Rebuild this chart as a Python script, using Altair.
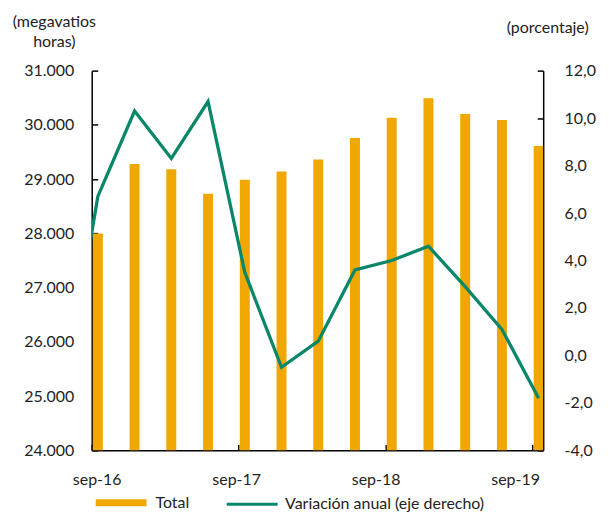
import altair as alt
import pandas as pd

# ---- data ----
bar_periods = ["sep-16", "dic-16", "mar-17", "jun-17", "sep-17", "dic-17", "mar-18",
               "jun-18", "sep-18", "dic-18", "mar-19", "jun-19", "sep-19"]
total_mwh = [28000, 29280, 29180, 28730, 28990, 29140, 29360,
             29760, 30130, 30490, 30200, 30090, 29610]

line_periods = ["jun-16"] + bar_periods
variacion_anual = [-2.5, 6.7, 10.3, 8.3, 10.7, 3.5, -0.5, 0.6,
                   3.6, 4.0, 4.6, 2.9, 1.1, -1.8]

x_tick_labels = ["sep-16", "sep-17", "sep-18", "sep-19"]

ORANGE = "#F0A800"
GREEN = "#0A876A"
FONT = "Lato"
TEXT = "#222222"
FS = 16

month_num = {"mar": 3, "jun": 6, "sep": 9, "dic": 12}


def pos(label, mid=0.5):
    m, y = label.split("-")
    return (2000 + int(y) - 2016) * 12 + (month_num[m] - 9) + mid


df_bars = pd.DataFrame({
    "periodo": bar_periods,
    "pos": [pos(p) for p in bar_periods],
    "total": total_mwh,
    "serie": "Total",
})
df_line = pd.DataFrame({
    "periodo": line_periods,
    "pos": [pos(p) for p in line_periods],
    "var": variacion_anual,
    "serie": "Variación anual (eje derecho)",
})

tick_values = [pos(t, 0) for t in x_tick_labels]

x_scale = alt.Scale(domain=[0, 36.87], nice=False, zero=False, padding=0)
x_axis = alt.Axis(
    values=tick_values,
    labelExpr="'sep-' + format(16 + datum.value / 12, 'd')",
    title=None,
    tickSize={"expr": "-6"},
    labelPadding=27,
    labelFlush=False,
    labelAlign="center",
    labelOffset={"expr": "5 - datum.value * 22.5 / 36"},
    labelBaseline="top",
)

bars = alt.Chart(df_bars).mark_bar(size=10, clip=True).encode(
    x=alt.X("pos:Q", scale=x_scale, axis=x_axis),
    y=alt.Y(
        "total:Q",
        scale=alt.Scale(domain=[24000, 31000], nice=False, zero=False),
        axis=alt.Axis(
            orient="left",
            values=list(range(24000, 31001, 1000)),
            labelExpr="replace(format(datum.value, ','), ',', '.')",
            title=["(megavatios", "horas)"],
            titleAngle=0,
            titleAlign="center",
            titleBaseline="top",
            titleX=-38,
            titleY=-57,
            titleLineHeight=20,
            tickSize={"expr": "-6"},
            labelPadding=24,
        ),
    ),
    fill=alt.Fill(
        "serie:N",
        scale=alt.Scale(domain=["Total"], range=[ORANGE]),
        legend=alt.Legend(
            orient="none",
            legendX=4,
            legendY=408,
            title=None,
            symbolType="M-1,-0.14H1V0.14H-1Z",
            symbolSize=2601,
            symbolStrokeWidth=0,
            labelOffset=9,
            labelLimit=400,
            padding=0,
        ),
    ),
)

line = alt.Chart(df_line).mark_line(clip=True, strokeWidth=3.3).encode(
    x=alt.X("pos:Q", scale=x_scale),
    y=alt.Y(
        "var:Q",
        scale=alt.Scale(domain=[-4, 12], nice=False, zero=False),
        axis=alt.Axis(
            orient="right",
            values=list(range(-4, 13, 2)),
            labelExpr="(datum.value < 0 ? '-' : '') + replace(format(abs(datum.value), '.1f'), '.', ',')",
            title="(porcentaje)",
            titleAngle=0,
            titleAlign="center",
            titleBaseline="top",
            titleX=4,
            titleY=-51,
            tickSize={"expr": "-6"},
            labelPadding=27,
        ),
    ),
    stroke=alt.Stroke(
        "serie:N",
        scale=alt.Scale(domain=["Variación anual (eje derecho)"], range=[GREEN]),
        legend=alt.Legend(
            orient="none",
            legendX=134,
            legendY=408,
            title=None,
            symbolType="M-1,0H1",
            symbolSize=2601,
            symbolStrokeWidth=3,
            labelOffset=6,
            labelLimit=400,
            padding=0,
        ),
    ),
)

chart = alt.layer(bars, line).resolve_scale(
    y="independent", fill="independent", stroke="independent"
).properties(
    width=453,
    height=381,
    padding={"left": 4, "top": 5, "right": 5, "bottom": 2},
).configure_view(
    stroke=None
).configure_axis(
    grid=False,
    domainColor="black",
    domainWidth=1.5,
    tickColor="black",
    tickWidth=1.5,
    labelFont=FONT,
    labelFontSize=FS,
    labelColor=TEXT,
    titleFont=FONT,
    titleFontSize=FS,
    titleFontWeight="normal",
    titleColor=TEXT,
).configure_legend(
    labelFont=FONT,
    labelFontSize=FS,
    labelColor=TEXT,
)

chart.save("out.html", embed_options={"renderer": "svg", "actions": False})
